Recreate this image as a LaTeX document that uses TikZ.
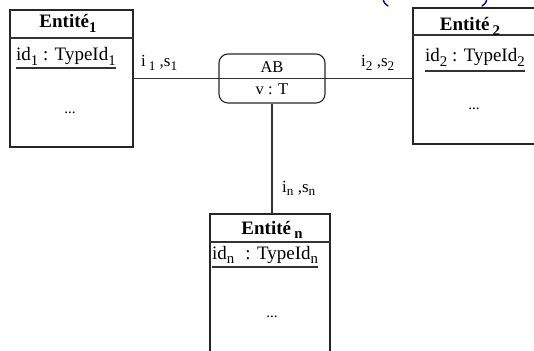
\documentclass[tikz,border=0pt]{standalone}
\usepackage{fontspec}
\usepackage{graphicx}
\setmainfont{Liberation Serif}
% lowered index, a little larger than \textsubscript
\newcommand\idx[1]{\raisebox{-0.22em}{\scalebox{0.78}{#1}}}
\begin{document}
\begin{tikzpicture}[x=1pt,y=-1pt,
  box/.style={draw=black!85, line width=1.1pt, rectangle, inner sep=0pt},
  relbox/.style={draw=black!85, line width=1.1pt, rectangle, rounded corners=9pt, inner sep=0pt},
  hdr/.style={font=\fontsize{19}{20}\selectfont\bfseries, anchor=base, inner sep=0pt},
  attr/.style={font=\fontsize{19}{21}\selectfont, anchor=base west, inner sep=0pt},
  reltext/.style={font=\fontsize{16.5}{18}\selectfont, anchor=base, inner sep=0pt},
  dots/.style={font=\fontsize{15}{16}\selectfont, anchor=base, inner sep=0pt},
  role/.style={font=\fontsize{17}{19}\selectfont, anchor=base west, inner sep=0pt},
  link/.style={draw=black!80, line width=1.1pt},
  paren/.style={draw=blue!75!black, line width=1.4pt, line cap=round}
]
\clip (0,0) rectangle (534,350);

% entity 1
\node[box, minimum width=123pt, minimum height=137pt] (e1) at (71.5,78.5) {};
\draw[link] (e1.west |- 0,38) -- (e1.east |- 0,38);
\node[hdr] (e1h) at (68,28) {Entité\idx{1}};
\node[attr] (e1a) at (16,61) {id\idx{1} : TypeId\idx{1}};
\draw[link] ([yshift=-7pt]e1a.base west) -- ([yshift=-7pt]e1a.base east);
\node[dots] (e1d) at (70,113) {...};

% entity 2
\node[box, minimum width=132pt, minimum height=136pt] (e2) at (479,76) {};
\draw[link] (e2.west |- 0,35) -- (e2.east |- 0,35);
\node[hdr] (e2h) at (470,31) {Entité\,\idx{2}};
\node[attr] (e2a) at (425,62) {id\idx{2} : TypeId\idx{2}};
\draw[link] ([yshift=-9pt]e2a.base west) -- ([yshift=-9pt]e2a.base east);
\node[dots] (e2d) at (474,110) {...};

% entity n
\node[box, minimum width=120pt, minimum height=160pt] (en) at (270,294) {};
\draw[link] (en.west |- 0,242) -- (en.east |- 0,242);
\node[hdr] (enh) at (272,234) {Entité\,\idx{n}};
\node[attr] (ena) at (212,259) {id\idx{n}\,\, : TypeId\idx{n}};
\draw[link] ([yshift=-8pt]ena.base west) -- ([yshift=-8pt]ena.base east);
\node[dots] (end) at (272,317) {...};

% association AB
\node[relbox, minimum width=106pt, minimum height=49pt] (ab) at (272,78.5) {};
\node[reltext] (abn) at (272,73) {AB};
\node[reltext] (abv) at (272,95) {v : T};

% connectors
\draw[link] (e1.east |- ab.center) -- (e2.west |- ab.center);
\draw[link] (ab.south) -- (ab.south |- en.north);

% roles
\node[role] (r1) at (141,67) {i\,\idx{1} ,s\idx{1}};
\node[role] (r2) at (361,67) {i\idx{2} ,s\idx{2}};
\node[role] (rn) at (282,192) {i\idx{n} ,s\idx{n}};

% blue brackets
\draw[paren] (383,-2) .. controls (384,3) .. (388,6);
\draw[paren] (487,-2) .. controls (486,3) .. (482,6);
\end{tikzpicture}
\end{document}
